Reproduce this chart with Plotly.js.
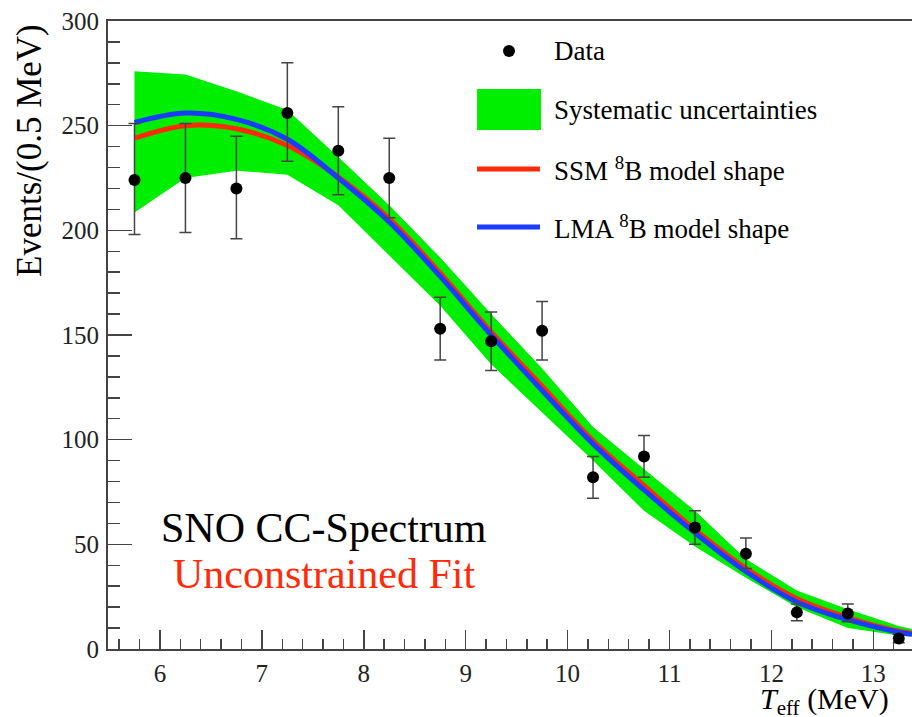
<!DOCTYPE html>
<html>
<head>
<meta charset="utf-8">
<script src="https://cdn.plot.ly/plotly-3.0.1.min.js"></script>
<style>html,body{margin:0;padding:0;background:#fff;}#chart{width:912px;height:717px;}</style>
</head>
<body>
<div id="chart"></div>
<script>
// ---- data ----
const binCenters = [5.75, 6.25, 6.75, 7.25, 7.75, 8.25, 8.75, 9.25, 9.75, 10.25, 10.75, 11.25, 11.75, 12.25, 12.75, 13.25];
const dataEvents = [224, 225, 220, 256, 238, 225, 153, 147, 152, 82, 92, 58, 45.5, 17.5, 17, 5];
const dataErrPlus = [27, 26, 25, 24, 21, 19, 15, 14, 14, 10, 10, 8, 7.5, 4, 4.5, 2];
const dataErrMinus = [26, 26, 24, 23, 21, 19, 15, 14, 14, 10, 10, 8, 7, 4, 4, 2];

const modelX = [5.75, 6.25, 6.75, 7.25, 7.75, 8.25, 8.75, 9.25, 9.75, 10.25, 10.75, 11.25, 11.75, 12.25, 12.75, 13.25, 13.38];
const ssmShape = [244, 250, 248.5, 240.5, 225.5, 205.5, 179.5, 151.5, 125.5, 99.5, 78, 57, 38.5, 24, 15, 8.5, 7.5];
const lmaShape = [251.5, 256, 253, 243.5, 225, 204, 178, 150, 123.5, 98, 76, 55.5, 37, 22.5, 14, 8, 7];

const bandX = [5.75, 6.25, 6.75, 7.25, 7.75, 8.25, 8.75, 9.25, 9.75, 10.25, 10.75, 11.25, 11.75, 12.25, 12.75, 13.25, 13.38];
const bandUpper = [276, 274.5, 266.5, 257.5, 235, 212, 187, 160, 134, 106, 86, 66, 43, 28, 19, 11, 9.5];
const bandLower = [208.5, 225, 228.5, 226.5, 212, 188, 164, 136, 113, 90, 66, 49, 34, 20, 10, 6.5, 6];

const legendLabels = ["Data", "Systematic uncertainties", "SSM <sup>8</sup>B model shape", "LMA <sup>8</sup>B model shape"];
const xTitle = "<i>T</i><sub>eff</sub> (MeV)";
const yTitle = "Events/(0.5 MeV)";
const noteLines = ["SNO CC-Spectrum", "Unconstrained Fit"];

// ---- styles ----
const FONT = "Liberation Serif";
const GREEN = "#00ee00", RED = "#ff2a0a", BLUE = "#1a3cff";
const L = 108, T = 21, W = 912, H = 717, B = 649;
const px = v => (v - L) / (W - L);
const py = v => (B - v) / (B - T);

const traces = [
  {x: bandX, y: bandLower, mode: "lines", line: {width: 0, color: GREEN}, hoverinfo: "skip", showlegend: false},
  {x: bandX, y: bandUpper, mode: "lines", line: {width: 0, color: GREEN}, fill: "tonexty", fillcolor: GREEN, showlegend: false, name: "Systematic uncertainties"},
  {x: modelX, y: ssmShape, mode: "lines", line: {color: RED, width: 5, shape: "spline"}, showlegend: false, name: "SSM"},
  {x: modelX, y: lmaShape, mode: "lines", line: {color: BLUE, width: 5, shape: "spline"}, showlegend: false, name: "LMA"},
  {x: binCenters, y: dataEvents, mode: "markers", marker: {color: "#000", size: 12},
   error_y: {type: "data", symmetric: false, array: dataErrPlus, arrayminus: dataErrMinus, color: "#444", thickness: 1.5, width: 6},
   showlegend: false, name: "Data"}
];

const legendY = [51, 110, 169, 227];
const shapes = [
  {type: "circle", xref: "paper", yref: "paper", x0: px(503), x1: px(515), y0: py(57), y1: py(45), fillcolor: "#000", line: {width: 0}},
  {type: "rect", xref: "paper", yref: "paper", x0: px(477), x1: px(541), y0: py(130), y1: py(89), fillcolor: GREEN, line: {width: 0}},
  {type: "line", xref: "paper", yref: "paper", x0: px(477), x1: px(540), y0: py(169), y1: py(169), line: {color: RED, width: 5}},
  {type: "line", xref: "paper", yref: "paper", x0: px(477), x1: px(540), y0: py(227), y1: py(227), line: {color: BLUE, width: 5}}
];

const annotations = legendLabels.map((t, i) => ({
  text: t, xref: "paper", yref: "paper", x: px(552), y: py(legendY[i]), xanchor: "left", yanchor: "middle",
  showarrow: false, font: {family: FONT, size: 27, color: "#000"}
}));
annotations.push(
  {text: noteLines[0], xref: "paper", yref: "paper", x: px(324), y: py(528), xanchor: "center", yanchor: "middle", showarrow: false, font: {family: FONT, size: 42, color: "#000"}},
  {text: noteLines[1], xref: "paper", yref: "paper", x: px(324), y: py(574), xanchor: "center", yanchor: "middle", showarrow: false, font: {family: FONT, size: 42, color: RED}},
  {text: xTitle, xref: "paper", yref: "paper", x: px(891), y: py(701), xanchor: "right", yanchor: "middle", showarrow: false, font: {family: FONT, size: 30, color: "#000"}},
  {text: yTitle, xref: "paper", yref: "paper", x: px(30), y: py(151), xanchor: "center", yanchor: "middle", textangle: -90, showarrow: false, font: {family: FONT, size: 35, color: "#000"}}
);

const layout = {
  width: W, height: H,
  margin: {l: L, r: 0, t: T, b: H - B, pad: 0},
  paper_bgcolor: "#fff", plot_bgcolor: "#fff",
  showlegend: false,
  font: {family: FONT, color: "#000"},
  xaxis: {
    range: [5.49, 13.38], showgrid: false, zeroline: false,
    showline: true, linecolor: "#444", linewidth: 2, mirror: true,
    ticks: "inside", ticklen: 19, tickwidth: 1.5, tickcolor: "#444",
    tick0: 6, dtick: 1,
    minor: {ticks: "inside", dtick: 0.2, tick0: 6, ticklen: 10, tickwidth: 1.5, tickcolor: "#444", showgrid: false},
    tickfont: {family: FONT, size: 25, color: "#222"}, ticklabelstandoff: 1
  },
  yaxis: {
    range: [0, 300], showgrid: false, zeroline: false,
    showline: true, linecolor: "#444", linewidth: 2,
    ticks: "inside", ticklen: 24, tickwidth: 1.5, tickcolor: "#444",
    tick0: 0, dtick: 50,
    minor: {ticks: "inside", dtick: 10, ticklen: 12, tickwidth: 1.5, tickcolor: "#444", showgrid: false},
    tickfont: {family: FONT, size: 25, color: "#222"}, ticklabelstandoff: 2
  },
  shapes: shapes,
  annotations: annotations
};

Plotly.newPlot("chart", traces, layout, {displayModeBar: false, staticPlot: true});
</script>
</body>
</html>
